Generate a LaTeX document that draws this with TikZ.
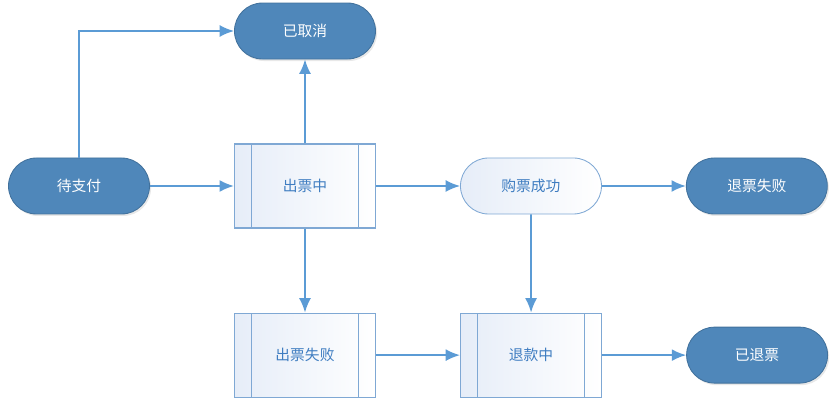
\documentclass[tikz,border=0pt]{standalone}
\usepackage{fontspec}
\setmainfont{Noto Sans CJK SC}
\usetikzlibrary{arrows.meta,positioning,shadows}
\definecolor{darkfill}{HTML}{4F87BA}
\definecolor{darkline}{HTML}{41719C}
\definecolor{lightline}{HTML}{7FA8D4}
\definecolor{lighttop}{HTML}{E6EDF8}
\definecolor{lighttext}{HTML}{3F7DC1}
\definecolor{flow}{HTML}{5B9BD5}
\tikzset{
	auto,node distance =2.1 cm and 2.1 cm,
	font=\fontsize{10.5pt}{12pt}\selectfont,
	term/.style ={rectangle, rounded corners=0.7cm, minimum width=3.525cm, minimum height=1.4cm,
		draw=darkline, line width=0.6pt, fill=darkfill, text=white,
		drop shadow={opacity=0.18, shadow xshift=0.04cm, shadow yshift=-0.05cm}},
	soft/.style ={rectangle, rounded corners=0.7cm, minimum width=3.525cm, minimum height=1.4cm,
		draw=lightline, line width=0.6pt, left color=lighttop, right color=white,
		text=lighttext},
	procbox/.style ={rectangle, minimum width=3.525cm, minimum height=2.1cm,
		draw=lightline, line width=0.8pt, left color=lighttop, right color=white,
		text=lighttext,
		path picture={
			\draw[lightline, line width=0.8pt]
				([xshift=0.43cm]path picture bounding box.north west) -- ([xshift=0.43cm]path picture bounding box.south west)
				([xshift=-0.43cm]path picture bounding box.north east) -- ([xshift=-0.43cm]path picture bounding box.south east);
		}},
	flowline/.style = {draw=flow, line width=1.3pt, -{Latex[length=3.6mm,width=3mm]}}
}
\begin{document}
\begin{tikzpicture}
    \useasboundingbox (0,0) rectangle (20.875,10);

    \node[term] (1) at (1.975,5.35) {待支付};
    \node[procbox] (2) [right = of 1] {出票中};
    \node[term] (3) [above = of 2] {已取消};
    \node[soft] (4) [right = of 2] {购票成功};
    \node[term] (5) [right = of 4] {退票失败};
    \node[procbox] (6) [below = of 2] {出票失败};
    \node[procbox] (7) [right = of 6] {退款中};
    \node[term] (8) [right = of 7] {已退票};

    \draw [flowline] (1) |- (3);
    \draw [flowline] (1) -- (2);
    \draw [flowline] (2) -- (3);
    \draw [flowline] (2) -- (4);
    \draw [flowline] (4) -- (5);
    \draw [flowline] (2) -- (6);
    \draw [flowline] (4) -- (7);
    \draw [flowline] (6) -- (7);
    \draw [flowline] (7) -- (8);

\end{tikzpicture}
\end{document}
